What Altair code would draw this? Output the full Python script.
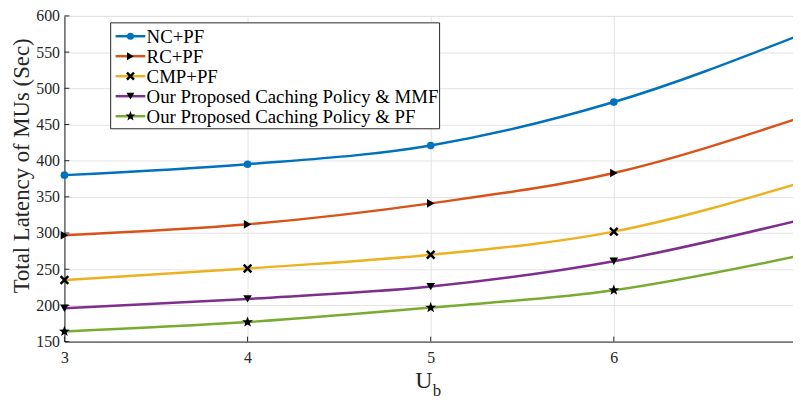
import math
import altair as alt
import pandas as pd

# ---- data ----
ub = [3, 4, 5, 6, 7]
series_names = [
    "NC+PF",
    "RC+PF",
    "CMP+PF",
    "Our Proposed Caching Policy & MMF",
    "Our Proposed Caching Policy & PF",
]
nc_pf = [380, 395, 421, 481, 572]
rc_pf = [297, 312, 341, 383, 458]
cmp_pf = [235, 251, 270, 302, 368]
ours_mmf = [196, 209, 226, 261, 317]
ours_pf = [164, 177, 197, 221, 268]
values = [nc_pf, rc_pf, cmp_pf, ours_mmf, ours_pf]
marker_x = [3, 4, 5, 6]
x_ticks = [3, 4, 5, 6]
y_ticks = [150, 200, 250, 300, 350, 400, 450, 500, 550, 600]

colors = ["#0072BD", "#D95319", "#EDB120", "#7E2F8E", "#77AC30"]
marker_colors = ["#0072BD", "black", "black", "black", "black"]

# star path
pts = []
for k in range(10):
    r = 1.0 if k % 2 == 0 else 0.42
    a = -math.pi / 2 + k * math.pi / 5
    pts.append(f"{r*math.cos(a):.3f},{r*math.sin(a):.3f}")
star = "M" + "L".join(pts) + "Z"
xshape = "M-1,-1L1,1M-1,1L1,-1"
shapes = ["circle", "triangle-right", xshape, "triangle-down", star]
filled = [True, True, False, True, True]
sizes = [60, 75, 60, 75, 130]

FONT = "Liberation Serif"
TOP = 6
W, H = 736, 329
xdom = [3, 3 + W / 185.0]
xs = alt.Scale(domain=xdom, nice=False, zero=False)
ys = alt.Scale(domain=[150, 600], nice=False, zero=False)

x_axis = alt.Axis(values=x_ticks, format="d", grid=True, ticks=False,
                  labelFlush=False, labelOverlap=False,
                  labelPadding=8, labelFontSize=16, labelFont=FONT,
                  labelColor="#262626", domainColor="#262626",
                  gridColor="#e3e3e3")
y_axis = alt.Axis(values=y_ticks, tickCount=10, grid=True, ticks=False,
                  labelFlush=False, labelOverlap=False,
                  labelPadding=5, labelFontSize=16, labelFont=FONT,
                  labelColor="#262626", domainColor="#262626",
                  gridColor="#e3e3e3",
                  titleFont=FONT, titleFontSize=23, titleFontWeight="normal",
                  titleColor="#262626", titleAngle=270,
                  titleX=-36, titleY=151, titleAlign="center",
                  titleBaseline="alphabetic")


def X(field="ub:Q"):
    return alt.X(field, scale=xs, axis=x_axis, title=None)


def Y(field="latency:Q"):
    return alt.Y(field, scale=ys, axis=y_axis, title="Total Latency of MUs (Sec)")


rows = []
for name, vals in zip(series_names, values):
    for x, v in zip(ub, vals):
        rows.append({"ub": x, "latency": v, "series": name})
df = pd.DataFrame(rows)

layers = []

yt = alt.Chart(pd.DataFrame({"latency": y_ticks})).mark_rule(color="#262626", strokeWidth=1).encode(
    x=alt.value(0), x2=alt.value(5), y=Y())
xt = alt.Chart(pd.DataFrame({"ub": x_ticks})).mark_rule(color="#262626", strokeWidth=1).encode(
    x=X(), y=alt.value(H), y2=alt.value(H - 5))
layers += [yt, xt]

for i, name in enumerate(series_names):
    sub = df[df.series == name]
    line = alt.Chart(sub).mark_line(color=colors[i], strokeWidth=2.5,
                                    interpolate="monotone", clip=True).encode(x=X(), y=Y())
    layers.append(line)
for i, name in enumerate(series_names):
    sub = df[(df.series == name) & (df.ub.isin(marker_x))]
    mk = alt.Chart(sub).mark_point(shape=shapes[i], filled=filled[i], size=sizes[i],
                                   color=marker_colors[i], opacity=1,
                                   strokeWidth=2.5 if not filled[i] else 1).encode(x=X(), y=Y())
    layers.append(mk)

# legend box
one = pd.DataFrame({"a": [0]})
layers.append(alt.Chart(one).mark_rect(fill="white", stroke="#262626", strokeWidth=1).encode(
    x=alt.value(46.7), x2=alt.value(379), y=alt.value(7), y2=alt.value(114)))
for i, name in enumerate(series_names):
    yy = 20.5 + 20.2 * i
    layers.append(alt.Chart(one).mark_rule(color=colors[i], strokeWidth=2.5).encode(
        x=alt.value(51.7), x2=alt.value(81.7), y=alt.value(yy)))
    layers.append(alt.Chart(one).mark_point(shape=shapes[i], filled=filled[i], size=sizes[i] * 0.85,
                                            color=marker_colors[i], opacity=1,
                                            strokeWidth=2.5 if not filled[i] else 1).encode(
        x=alt.value(66.7), y=alt.value(yy)))
    layers.append(alt.Chart(pd.DataFrame({"t": [name]})).mark_text(
        align="left", baseline="alphabetic", font=FONT, fontSize=19, color="black").encode(
        x=alt.value(83), y=alt.value(27.7 + 20.2 * i), text="t:N"))

# x title U_b
layers.append(alt.Chart(pd.DataFrame({"t": ["U"]})).mark_text(
    align="center", baseline="alphabetic", font=FONT, fontSize=24, color="#262626").encode(
    x=alt.value(363), y=alt.value(376), text="t:N"))
layers.append(alt.Chart(pd.DataFrame({"t": ["b"]})).mark_text(
    align="left", baseline="alphabetic", font=FONT, fontSize=17, color="#262626").encode(
    x=alt.value(372), y=alt.value(384), text="t:N"))

chart = alt.layer(*layers).properties(
    width=W, height=H,
    autosize=alt.AutoSizeParams(type="none"),
    padding={"left": 57, "top": TOP, "right": 0, "bottom": 57},
).configure_view(stroke=None).configure(background="white")

chart.save("out.html", embed_options={"renderer": "svg", "actions": False})
